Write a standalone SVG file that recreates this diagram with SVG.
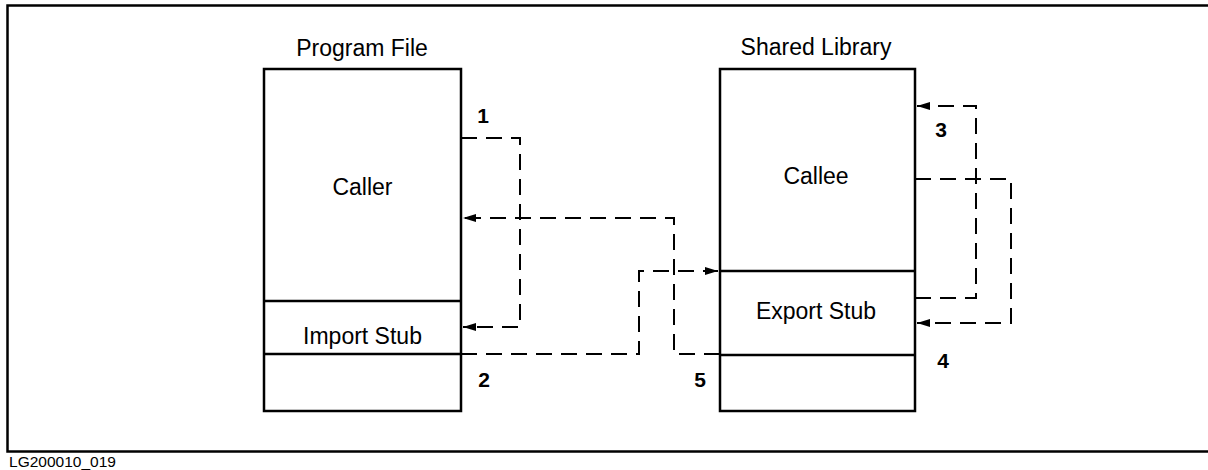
<svg xmlns="http://www.w3.org/2000/svg" width="1208" height="470" viewBox="0 0 1208 470">
  <style>
    .frame { fill: none; stroke: #000; stroke-width: 2.5; }
    .box { fill: #fff; stroke: #000; stroke-width: 2.5; }
    .div { stroke: #000; stroke-width: 2.5; }
    .flow { fill: none; stroke: #000; stroke-width: 2; stroke-dasharray: 16 9; }
    .lbl { font-family: "Liberation Sans", Arial, sans-serif; font-size: 23px; fill: #000; text-anchor: middle; }
    .num { font-family: "Liberation Sans", Arial, sans-serif; font-size: 21px; font-weight: bold; fill: #000; text-anchor: middle; }
    .tag { font-family: "Liberation Sans", Arial, sans-serif; font-size: 15px; fill: #000; }
  </style>
  <defs>
    <marker id="arrow" viewBox="0 0 13 8" refX="13" refY="4" markerWidth="13" markerHeight="8" markerUnits="userSpaceOnUse" orient="auto">
      <path d="M0,0 L13,4 L0,8 Z" fill="#000"/>
    </marker>
  </defs>

  <rect width="1208" height="470" fill="#fff"/>

  <!-- outer frame (right edge runs past the canvas) -->
  <rect class="frame" x="7.5" y="5.5" width="1210" height="446"/>

  <!-- program file -->
  <g id="program-file">
    <text class="lbl" x="362" y="56">Program File</text>
    <rect class="box" x="264" y="69" width="197" height="342"/>
    <line class="div" x1="264" y1="301" x2="461" y2="301"/>
    <line class="div" x1="264" y1="354" x2="461" y2="354"/>
    <text class="lbl" x="362.5" y="195">Caller</text>
    <text class="lbl" x="362.5" y="344">Import Stub</text>
  </g>

  <!-- shared library -->
  <g id="shared-library">
    <text class="lbl" x="816" y="55">Shared Library</text>
    <rect class="box" x="720" y="69" width="195" height="342"/>
    <line class="div" x1="720" y1="271" x2="915" y2="271"/>
    <line class="div" x1="720" y1="355" x2="915" y2="355"/>
    <text class="lbl" x="816" y="184">Callee</text>
    <text class="lbl" x="816" y="319">Export Stub</text>
  </g>

  <!-- call sequence -->
  <g id="connectors">
    <path class="flow" d="M461,138 H520 V327 H463" marker-end="url(#arrow)"/>
    <path class="flow" d="M461,354 H639 V271 H718" marker-end="url(#arrow)"/>
    <path class="flow" d="M915,298 H976 V106 H917" marker-end="url(#arrow)"/>
    <path class="flow" d="M915,179 H1011 V323 H917" marker-end="url(#arrow)"/>
    <path class="flow" d="M720,354 H674 V218 H463" marker-end="url(#arrow)"/>
  </g>

  <g id="step-numbers">
    <text class="num" x="483" y="123">1</text>
    <text class="num" x="484" y="387">2</text>
    <text class="num" x="941" y="137">3</text>
    <text class="num" x="943" y="368">4</text>
    <text class="num" x="700" y="387">5</text>
  </g>

  <text class="tag" x="9" y="467" textLength="107" lengthAdjust="spacingAndGlyphs">LG200010_019</text>
</svg>
